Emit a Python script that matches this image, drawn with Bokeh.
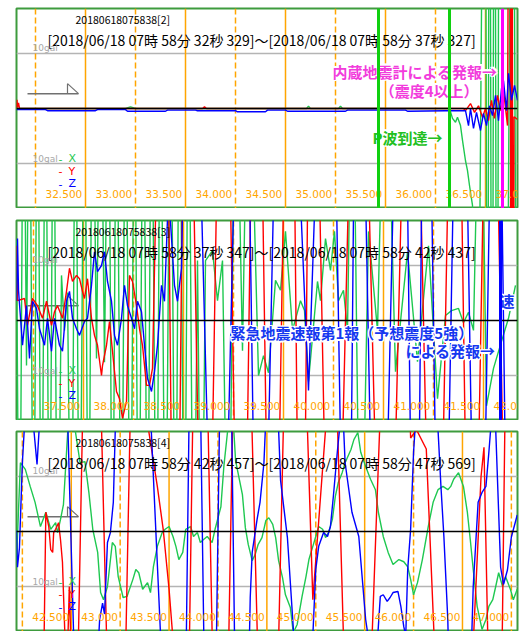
from bokeh.plotting import figure
from bokeh.layouts import column
from bokeh.models import Span
from bokeh.core.properties import value
from bokeh.embed import file_html
from bokeh.resources import INLINE

# ---------------- data (time in s, acceleration in gal) ----------------
P1_X_T = [32.31, 33.40, 33.45, 33.50, 35.21, 35.23, 35.25, 35.53, 35.55, 35.57,
          36.64, 36.67, 36.70, 36.72, 36.75, 36.77, 36.80, 36.82, 36.84, 36.87,
          36.91, 36.995, 37.02, 37.04, 37.065, 37.09, 37.115, 37.14, 37.20, 37.27,
          37.32]
P1_X_V = [0.0, 0.0, 0.3, 0.0, 0.0, 0.4, 0.0, 0.0, 0.4, 0.0,
          0.0, -1.8, -2.5, -1.6, -3.1, -5.8, -9.5, -11.3, -14.0, -17.6,
          -100, 100, -100, 100, -100, 100, -100, 100, -100, 100,
          -100]
P1_Y_T = [32.31, 32.315, 32.32, 32.33, 32.34, 34.17, 34.19, 34.21, 36.78, 36.80,
          36.85, 36.89, 36.93, 36.97, 37.00, 37.03, 37.06, 37.09, 37.12, 37.15,
          37.18, 37.22, 37.245, 37.255, 37.265, 37.275, 37.285, 37.32]
P1_Y_V = [0.0, 1.6, 0.2, 1.0, 0.0, 0.0, 0.3, 0.0, 0.0, -0.4,
          0.9, -0.7, 0.5, -1.6, 0.0, -2.2, 1.5, -1.8, 2.4, -0.4,
          3.3, -3.1, 100, -100, 100, -100, -1.5, -2.0]
P1_Z_T = [32.31, 32.60, 32.62, 33.10, 33.12, 33.40, 33.42, 33.80, 33.82, 34.10,
          34.12, 34.50, 34.52, 34.80, 34.82, 35.00, 35.02, 35.60, 35.62, 36.20,
          36.22, 36.60, 36.80, 36.83, 36.85, 36.88, 36.91, 36.95, 36.98, 37.01,
          37.04, 37.07, 37.10, 37.13, 37.16, 37.18, 37.21, 37.23, 37.26, 37.29,
          37.32]
P1_Z_V = [-0.2, -0.2, -0.4, -0.4, -0.2, -0.2, -0.5, -0.5, -0.3, -0.3,
          -0.4, -0.4, -0.6, -0.6, -0.3, -0.3, -0.5, -0.5, -0.3, -0.3,
          -0.5, -0.4, -0.4, -3.1, 0.0, -3.6, -0.7, -4.0, -0.9, -3.1,
          0.5, -1.3, 2.4, -2.2, 3.6, 5.1, -0.4, 6.4, 1.5, 4.2,
          1.5]

P2_X_T = [37.33, 37.36, 37.40, 37.43, 37.46, 37.50, 37.54, 37.58, 37.62, 37.66,
          37.70, 37.74, 37.78, 37.81, 37.84, 37.88, 37.92, 37.96, 38.01, 38.05,
          38.09, 38.13, 38.17, 38.21, 38.25, 38.29, 38.33, 38.38, 38.42, 38.47,
          38.51, 38.55, 38.60, 38.64, 38.68, 38.73, 38.77, 38.82, 38.87, 38.92,
          38.96, 39.01, 39.05, 39.10, 39.14, 39.18, 39.22, 39.29, 39.34, 39.39,
          39.45, 39.52, 39.59, 39.65, 39.75, 39.80, 39.85, 39.92, 39.97, 40.02,
          40.09, 40.17, 40.21, 40.25, 40.34, 40.37, 40.42, 40.47, 40.51, 40.55,
          40.60, 40.64, 40.69, 40.77, 40.85, 40.94, 41.02, 41.12, 41.24, 41.34,
          41.45, 41.54, 41.62, 41.68, 41.75, 41.80, 41.85, 41.90, 41.97, 42.03,
          42.10, 42.18, 42.25, 42.32]
P2_X_V = [14.5, -60, 60, -8.2, 60, -60, 60, -60, 60, -60,
          60, -60, 8.2, -1.8, 5.1, -60, 60, -60, 60, -60,
          60, -6.9, 60, -7.6, 60, -60, 60, -60, 60, -60,
          60, -60, 60, -60, 60, -60, 60, -60, 60, -60,
          60, -60, 60, -60, 10.9, -60, 10.9, 12.7, 3.6, 10.9,
          -60, 60, -5.5, 60, -10.0, -6.4, -9.5, 7.3, 5.5, 16.2,
          -1.8, 3.6, 1.8, -11.1, 7.1, 3.6, 14.9, 9.1, 16.2, 3.6,
          5.5, -1.8, 60, -60, 16.2, -1.8, 60, -9.3, 12.5, -7.5,
          13.6, -14.2, 0.9, 1.8, 2.2, -0.4, 1.5, -1.8, 60, -15.5,
          -8.7, -3.8, 0.4, 6.4]
P2_Y_T = [37.33, 37.34, 37.41, 37.44, 37.49, 37.54, 37.59, 37.63, 37.68, 37.71,
          37.74, 37.79, 37.83, 37.86, 37.89, 37.93, 37.96, 37.99, 38.01, 38.04,
          38.08, 38.11, 38.14, 38.18, 38.19, 38.23, 38.26, 38.29, 38.33, 38.36,
          38.39, 38.43, 38.46, 38.49, 38.53, 38.56, 38.59, 38.63, 38.66, 38.69,
          38.81, 38.92, 39.03, 39.22, 39.40, 39.58, 39.73, 39.89, 40.07, 40.18,
          40.28, 40.49, 40.75, 41.02, 41.28, 41.52, 41.72, 41.88, 42.07, 42.27,
          42.34]
P2_Y_V = [13.6, 3.6, 4.0, -0.9, 4.0, 2.7, 0.4, 3.5, -0.9, 1.6,
          2.7, 0.4, 5.3, 9.5, 7.1, 8.2, 7.6, 5.3, 4.0, 7.6,
          0.4, -2.7, -4.5, -10.0, -8.2, -4.5, -0.2, -5.6, -12.9, -14.2,
          -17.8, -14.7, 8.2, 7.1, 2.7, -1.5, -4.5, -11.8, -11.8, -8.7,
          100, -100, 100, -100, 100, -100, 100, -100, 100, -100,
          100, -100, 100, -100, 100, -100, 100, -100, 100, -100,
          -30]
P2_Z_T = [37.33, 37.34, 37.35, 37.39, 37.43, 37.46, 37.49, 37.53, 37.56, 37.61,
          37.64, 37.68, 37.71, 37.76, 37.79, 37.83, 37.86, 37.89, 37.93, 37.96,
          38.01, 38.04, 38.08, 38.11, 38.14, 38.18, 38.21, 38.24, 38.28, 38.31,
          38.34, 38.38, 38.41, 38.44, 38.48, 38.51, 38.54, 38.58, 38.61, 38.64,
          38.68, 38.71, 38.74, 38.78, 38.81, 38.85, 38.91, 38.94, 38.98, 39.07,
          39.35, 39.60, 39.76, 39.99, 40.25, 40.46, 40.64, 40.74, 40.95, 41.19,
          41.32, 41.42, 41.58, 41.77, 41.95, 42.13, 42.27, 42.34]
P2_Z_V = [3.6, 14.9, 5.5, -4.5, 2.7, -6.9, 3.5, 2.2, -1.5, -4.5,
          0.4, -5.6, 0.4, -4.5, -5.6, 3.5, 5.3, 0.4, -1.5, -2.7,
          -0.2, 0.4, 6.4, 12.5, 8.9, 10.0, 12.5, 7.1, 3.5, -2.7,
          -4.5, 0.4, 6.4, 2.7, 0.4, -1.5, 3.5, 1.6, -4.5, -10.5,
          -12.9, -9.3, -4.5, 6.4, 3.5, 23.6, 6.4, 3.5, 9.5, 100,
          -100, 100, -100, 100, -12.7, 100, -100, 100, -100, 100,
          -100, 100, -100, 100, -100, 100, -100, -20]

P3_X_T = [42.44, 42.48, 42.53, 42.58, 42.63, 42.685, 42.74, 42.79, 42.84, 42.86,
          42.89, 42.92, 42.97, 43.01, 43.09, 43.14, 43.18, 43.22, 43.27, 43.30,
          43.33, 43.37, 43.42, 43.45, 43.48, 43.53, 43.57, 43.63, 43.66, 43.69,
          43.73, 43.78, 43.81, 43.84, 43.88, 43.93, 43.96, 44.00, 44.04, 44.07,
          44.10, 44.14, 44.17, 44.22, 44.25, 44.29, 44.32, 44.35, 44.39, 44.44,
          44.47, 44.53, 44.56, 44.60, 44.65, 44.68, 44.75, 44.78, 44.81, 44.85,
          44.88, 44.91, 44.95, 44.99, 45.02, 45.06, 45.09, 45.12, 45.16, 45.19,
          45.24, 45.27, 45.31, 45.36, 45.40, 45.43, 45.47, 45.50, 45.53, 45.57,
          45.60, 45.63, 45.67, 45.70, 45.73, 45.77, 45.80, 45.86, 45.89, 45.93,
          45.96, 46.01, 46.06, 46.11, 46.14, 46.19, 46.24, 46.29, 46.35, 46.40,
          46.44, 46.47, 46.50, 46.54, 46.59, 46.65, 46.70, 46.75, 46.80, 46.85,
          46.88, 46.91, 46.96, 47.01, 47.05, 47.08, 47.11, 47.15, 47.20, 47.24,
          47.27, 47.31, 47.34, 47.37, 47.41, 47.44, 47.49, 47.52, 47.56]
P3_X_V = [-5.3, 12.5, 11.3, 8.2, 5.3, 0.9, 3.5, 0.4, 1.6, -0.2,
          2.2, 4.9, 20.0, 22.0, 12.5, 12.7, 7.1, 0.4, -3.8, -11.1,
          -12.4, -10.0, -2.0, -2.7, -8.2, -12.0, -11.8, -8.7, -6.9, -7.5,
          -10.5, -9.3, -11.1, -6.4, -2.7, -0.2, 0.4, 0.9, -0.9, -2.7,
          -5.1, -3.8, 0.4, 0.9, -0.9, -0.2, -2.0, -1.5, -0.9, -2.0,
          0.4, 4.5, 11.8, 18.5, 22.0, 12.9, 6.7, 0.7, -2.4, -5.3,
          -4.2, -2.4, -1.1, 2.0, 2.5, 1.3, -1.1, -5.3, -8.4, -11.5,
          -13.8, -18.4, -16.9, -11.8, -8.2, -5.1, -2.7, -0.9, 0.9, 0.4,
          -1.1, -0.2, 2.2, 6.4, 8.9, 10.7, 12.5, 14.9, 16.7, 18.0,
          14.4, 11.8, 9.5, 7.6, 3.5, -0.9, -3.8, -6.0, -5.1, -5.5,
          -6.4, -8.7, -11.5, -9.3, -5.1, 0.9, 5.3, 7.6, 8.2, 7.6,
          8.2, 9.5, 10.7, 8.2, 3.5, -1.5, -6.9, -13.6, -17.8, -16.0,
          -13.6, -12.4, -10.0, -7.5, -10.0, -8.2, -10.5, -12.4, -10.5]
P3_Y_T = [42.44, 42.66, 42.74, 42.77, 42.79, 42.81, 42.82, 42.84, 42.87, 42.89,
          42.91, 42.92, 42.94, 42.96, 42.98, 43.00, 43.03, 43.20, 43.47, 43.69,
          43.79, 43.88, 43.94, 44.00, 44.04, 44.14, 44.31, 44.53, 44.73, 45.02,
          45.27, 45.47, 45.69, 45.91, 46.32, 46.47, 46.53, 46.63, 46.90, 47.19,
          47.22, 47.35, 47.49, 47.56]
P3_Y_V = [-60, -100, 3.5, 0.9, -3.3, -3.8, -0.2, 0.4, 1.6, -1.5,
          -5.6, -11.1, -21.5, -23.0, -10.0, -23.0, -60, 100, -100, 100,
          18.5, 8.2, 0.4, -10.5, -19.6, -100, 100, -100, 100, -100,
          100, -12.4, 40, -100, 100, 17.0, 18.5, 15.0, -100, 10.0,
          15.3, -100, 100, 60]
P3_Z_T = [42.44, 42.45, 42.47, 42.50, 42.54, 42.58, 42.62, 42.65, 42.71, 42.84,
          43.15, 43.22, 43.29, 43.32, 43.34, 43.37, 43.40, 43.43, 43.45, 43.61,
          44.12, 44.26, 44.42, 44.58, 44.73, 44.83, 44.85, 44.90, 44.93, 44.97,
          45.00, 45.06, 45.12, 45.14, 45.21, 45.27, 45.36, 45.47, 45.50, 45.53,
          45.58, 45.62, 45.65, 45.68, 45.72, 45.75, 45.77, 45.80, 45.87, 45.94,
          46.01, 46.03, 46.08, 46.13, 46.16, 46.19, 46.23, 46.26, 46.29, 46.34,
          46.37, 46.40, 46.42, 46.44, 46.47, 46.50, 46.52, 46.63, 46.70, 46.75,
          46.78, 46.81, 46.85, 46.96, 47.11, 47.16, 47.20, 47.24, 47.27, 47.29,
          47.32, 47.34, 47.39, 47.42, 47.46, 47.50, 47.56]
P3_Z_V = [0.2, -6.5, -3.0, 12.5, 25, 30, 18, 12.2, 30, 100,
          -100, -40, -16, -13, -15, -2.0, -0.2, 5.3, 18.5, 100,
          -100, 100, -100, 100, -100, -12, -3.8, 2.2, 5.3, 12.5,
          25, 100, 18.5, 9.3, -1.1, -17.5, -100, -19, -6.9, -2.7,
          -0.2, -0.9, 0.9, 6.4, 14.4, 19.8, 25, 12.5, 3.5, -0.9,
          -16, -18.4, -25, -20, -11.8, -11.5, -12.7, -12.0, -11.1, -10.9,
          -13.6, -17.3, -19, -6.9, 0.4, 14.4, 20, 60, 40, 18.5,
          8.2, -0.9, -16, -100, -10.0, 5.3, 7.1, 8.2, 14.4, 19,
          30, 18.5, -6.5, -9.6, -7.0, -1.0, 3.0]

P1_TICKS = [32.5, 33.0, 33.5, 34.0, 34.5, 35.0, 35.5, 36.0, 36.5, 37.0]
P2_TICKS = [37.5, 38.0, 38.5, 39.0, 39.5, 40.0, 40.5, 41.0, 41.5, 42.0]
P3_TICKS = [42.5, 43.0, 43.5, 44.0, 44.5, 45.0, 45.5, 46.0, 46.5, 47.0, 47.5]
P1_TICK_LABELS = ["32.500", "33.000", "33.500", "34.000", "34.500", "35.000", "35.500", "36.000", "36.500", "37.0"]
P2_TICK_LABELS = ["37.500", "38.000", "38.500", "39.000", "39.500", "40.000", "40.500", "41.000", "41.500", "42.0"]
P3_TICK_LABELS = ["42.500", "43.000", "43.500", "44.000", "44.500", "45.000", "45.500", "46.000", "46.500", "47.000", ""]

TITLE_IDS = ["20180618075838[2]", "20180618075838[3]", "20180618075838[4]"]
TITLE_SPANS = ["[2018/06/18 07時 58分 32秒 329]～[2018/06/18 07時 58分 37秒 327]",
               "[2018/06/18 07時 58分 37秒 347]～[2018/06/18 07時 58分 42秒 437]",
               "[2018/06/18 07時 58分 42秒 457]～[2018/06/18 07時 58分 47秒 569]"]
GAL_LEVELS = [10, -10]
GAL_LABEL = "10gal"
LEGEND_NAMES = ["X", "Y", "Z"]
TRIGGER_LEVEL = 2.7

P1_EVENTS = [35.93, 36.64, 37.17]
P1_EVENT_COLORS = ["#10d010", "#10d010", "#ff00ff"]
P2_EVENTS = [42.17]
P2_EVENT_COLORS = ["#0000ff"]

# ---------------- style ----------------
CJK = "Noto Sans CJK JP"
LAT = "DejaVu Sans"
GREEN, RED, BLUE = "#1ec850", "#ff0000", "#0000ff"
ORANGE = "#ffa500"
GRAY = "#b4b4b4"
YMAX = 18.18
PXG = 5.5
FW, FH = 501, 200

panels = [
    dict(start=32.31, rate=100.0, top=8, ticks=P1_TICKS, labels=P1_TICK_LABELS,
         traces=[(P1_X_T, P1_X_V, GREEN), (P1_Y_T, P1_Y_V, RED), (P1_Z_T, P1_Z_V, BLUE)],
         events=P1_EVENTS, ecolors=P1_EVENT_COLORS),
    dict(start=37.33, rate=100.0, top=12, ticks=P2_TICKS, labels=P2_TICK_LABELS,
         traces=[(P2_X_T, P2_X_V, GREEN), (P2_Y_T, P2_Y_V, RED), (P2_Z_T, P2_Z_V, BLUE)],
         events=P2_EVENTS, ecolors=P2_EVENT_COLORS),
    dict(start=42.44, rate=97.8, top=11, ticks=P3_TICKS, labels=P3_TICK_LABELS,
         traces=[(P3_X_T, P3_X_V, GREEN), (P3_Y_T, P3_Y_V, RED), (P3_Z_T, P3_Z_V, BLUE)],
         events=[], ecolors=[]),
]


def halo_text(p, x, y, txt, color, align, size="15px"):
    for ox, oy in [(-1.5, 0), (1.5, 0), (0, -1.5), (0, 1.5), (-1.2, -1.2), (1.2, 1.2), (-1.2, 1.2), (1.2, -1.2)]:
        p.text(x=[x], y=[y], text=[txt], x_offset=ox, y_offset=oy, text_color="white",
               text_font=value(CJK), text_font_style="bold", text_font_size=size,
               text_align=align, text_baseline="middle")
    p.text(x=[x], y=[y], text=[txt], text_color=color, text_font=value(CJK),
           text_font_style="bold", text_font_size=size, text_align=align, text_baseline="middle")


figs = []
for i, pn in enumerate(panels):
    x0, rate = pn["start"], pn["rate"]
    X = lambda dx: x0 + dx / rate
    Y = lambda dy: YMAX - dy / PXG
    p = figure(frame_width=FW, frame_height=FH, x_range=(x0, x0 + FW / rate),
               y_range=(-YMAX, YMAX), output_backend="svg", toolbar_location=None,
               x_axis_location=None, y_axis_location=None,
               min_border_left=16, min_border_right=5, min_border_top=pn["top"], min_border_bottom=0)
    p.xgrid.grid_line_color = None
    p.ygrid.grid_line_color = None
    p.outline_line_color = "#3e9b3e"
    p.outline_line_width = 2
    p.background_fill_color = "white"
    p.border_fill_color = "white"

    for lv in GAL_LEVELS:
        p.add_layout(Span(location=lv, dimension="width", line_color=GRAY, line_width=1.5, level="underlay"))
    for t in pn["ticks"]:
        whole = abs(t - round(t)) < 1e-6
        p.add_layout(Span(location=t, dimension="height", line_color=ORANGE, line_width=1.5,
                          line_dash="solid" if whole else "6 3", level="underlay"))

    # trigger flag
    p.segment(x0=[X(11)], y0=[TRIGGER_LEVEL], x1=[X(62)], y1=[TRIGGER_LEVEL], line_color="#707070", line_width=1.5)
    p.segment(x0=[X(51)], y0=[TRIGGER_LEVEL], x1=[X(51)], y1=[TRIGGER_LEVEL + 10 / PXG], line_color="#707070", line_width=1.2)
    p.segment(x0=[X(51)], y0=[TRIGGER_LEVEL + 10 / PXG], x1=[X(62)], y1=[TRIGGER_LEVEL], line_color="#707070", line_width=1.2)

    for tt, vv, col in pn["traces"]:
        p.line(tt, vv, line_color=col, line_width=1.4)

    p.add_layout(Span(location=0, dimension="width", line_color="black", line_width=1.5))
    for ev, ec in zip(pn["events"], pn["ecolors"]):
        p.add_layout(Span(location=ev, dimension="height", line_color=ec, line_width=3))

    # titles
    p.text(x=[X(59)], y=[Y(11)], text=[TITLE_IDS[i]], text_font=value(CJK), text_font_size="10.5px",
           text_color="black", text_align="left", text_baseline="middle")
    p.text(x=[X(31)], y=[Y(31)], text=[TITLE_SPANS[i]], text_font=value(CJK), text_font_size="14px",
           text_color="black", text_align="left", text_baseline="middle")

    # gal labels
    p.text(x=[X(16), X(16)], y=[GAL_LEVELS[0] + 5 / PXG, GAL_LEVELS[1] + 5 / PXG], text=[GAL_LABEL, GAL_LABEL],
           text_font=value(LAT), text_font_size="9px", text_color="#a8a8a8", text_align="left", text_baseline="middle")
    # legend
    for k, (nm, col) in enumerate(zip(LEGEND_NAMES, [GREEN, RED, BLUE])):
        yy = GAL_LEVELS[1] + 5 / PXG - k * 12.5 / PXG
        p.text(x=[X(42)], y=[yy], text=["-"], text_font=value(LAT), text_font_size="11px",
               text_color=col, text_align="left", text_baseline="middle")
        p.text(x=[X(52)], y=[yy], text=[nm], text_font=value(LAT), text_font_size="11px",
               text_color=col, text_align="left", text_baseline="middle")

    # tick labels
    p.text(x=[t + 10 / rate for t in pn["ticks"]], y=[Y(185.5)] * len(pn["ticks"]),
           text=pn["labels"], text_font=value(LAT), text_font_size="10.5px",
           text_color=ORANGE, text_align="left", text_baseline="middle")

    if i == 0:
        halo_text(p, X(481), Y(62.5), "内蔵地震計による発報→", "#f23cdc", "right")
        halo_text(p, X(462), Y(81.5), "（震度4以上）", "#f23cdc", "right")
        halo_text(p, X(356), Y(128.5), "P波到達→", "#22c022", "left")
    if i == 1:
        halo_text(p, X(214), Y(112), "緊急地震速報第1報（予想震度5強）", "#1538f0", "left")
        halo_text(p, X(479), Y(130), "による発報→", "#1538f0", "right")
        halo_text(p, X(498), Y(80), "速", "#1538f0", "right")
    figs.append(p)

layout = column(*figs, spacing=0)
open("out.html", "w").write(file_html(layout, INLINE))
